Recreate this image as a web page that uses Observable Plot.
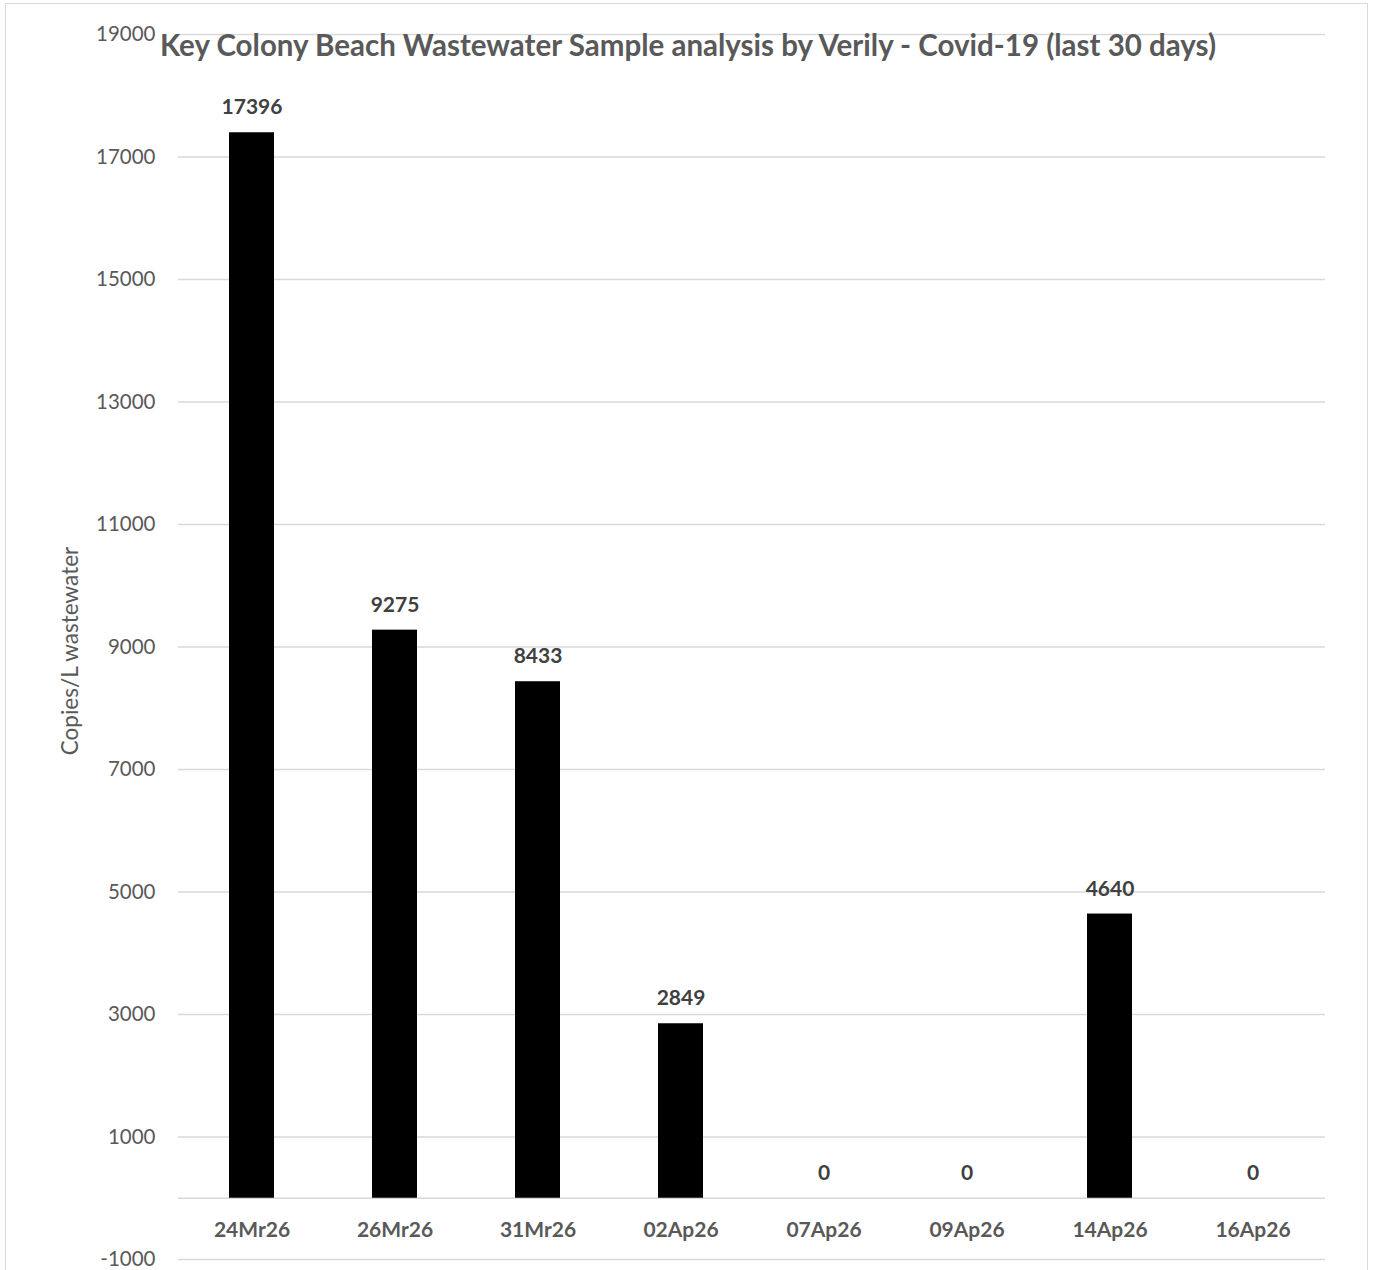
<!DOCTYPE html>
<html>
<head>
<meta charset="utf-8">
<script src="https://cdn.jsdelivr.net/npm/d3@7"></script>
<script src="https://cdn.jsdelivr.net/npm/@observablehq/plot@0.6"></script>
<style>
  html, body { margin: 0; padding: 0; background: #fff; }
  #wrap { position: relative; width: 1376px; height: 1270px; overflow: hidden; }
  #border { position: absolute; left: 5px; top: 3px; width: 1363px; height: 1300px; border: 1.5px solid #d9d9d9; box-sizing: border-box; pointer-events: none; }
  svg { font-family: Lato, "Open Sans", sans-serif; }
</style>
</head>
<body>
<div id="wrap"><div id="border"></div></div>
<script>
const titleText = "Key Colony Beach Wastewater Sample analysis by Verily - Covid-19 (last 30 days)";
const yLabel = "Copies/L wastewater";
const dates = ["24Mr26", "26Mr26", "31Mr26", "02Ap26", "07Ap26", "09Ap26", "14Ap26", "16Ap26"];
const copies = [17396, 9275, 8433, 2849, 0, 0, 4640, 0];
const yTicks = [-1000, 1000, 3000, 5000, 7000, 9000, 11000, 13000, 15000, 17000, 19000];

const data = dates.map((d, i) => ({date: d, value: copies[i]}));

const chart = Plot.plot({
  width: 1376,
  height: 1270,
  marginLeft: 178,
  marginRight: 51,
  marginTop: 34,
  marginBottom: 11,
  style: {fontFamily: "Lato, 'Open Sans', sans-serif", background: "transparent"},
  x: {domain: dates, paddingInner: 0.686, paddingOuter: 0.343, axis: null},
  y: {domain: [-1000, 19000], axis: null},
  marks: [
    Plot.ruleY(yTicks, {stroke: "#d9d9d9", strokeWidth: 1.5}),
    Plot.ruleY([0], {stroke: "#d9d9d9", strokeWidth: 1.5}),
    Plot.axisY({ticks: yTicks, tickSize: 0, tickPadding: 23, fontSize: 20.5, fill: "#595959", label: null, tickFormat: d => String(d)}),
    Plot.barY(data, {x: "date", y: "value", fill: "#000"}),
    Plot.text(data, {x: "date", y: "value", text: d => String(d.value), dy: -25, fontSize: 21, fontWeight: "bold", fill: "#404040"}),
    Plot.text(data, {x: "date", y: () => 0, text: "date", dy: 32, fontSize: 21, fontWeight: "bold", fill: "#595959"}),
    Plot.text([yLabel], {frameAnchor: "left", dx: -108, dy: 4, rotate: -90, textAnchor: "middle", fontSize: 22.5, fill: "#595959", text: d => d}),
    Plot.text([titleText], {frameAnchor: "top", dx: -64, dy: 1, fontSize: 29.5, fontWeight: "bold", fill: "#595959", text: d => d})
  ]
});
document.getElementById("wrap").prepend(chart);
</script>
</body>
</html>
